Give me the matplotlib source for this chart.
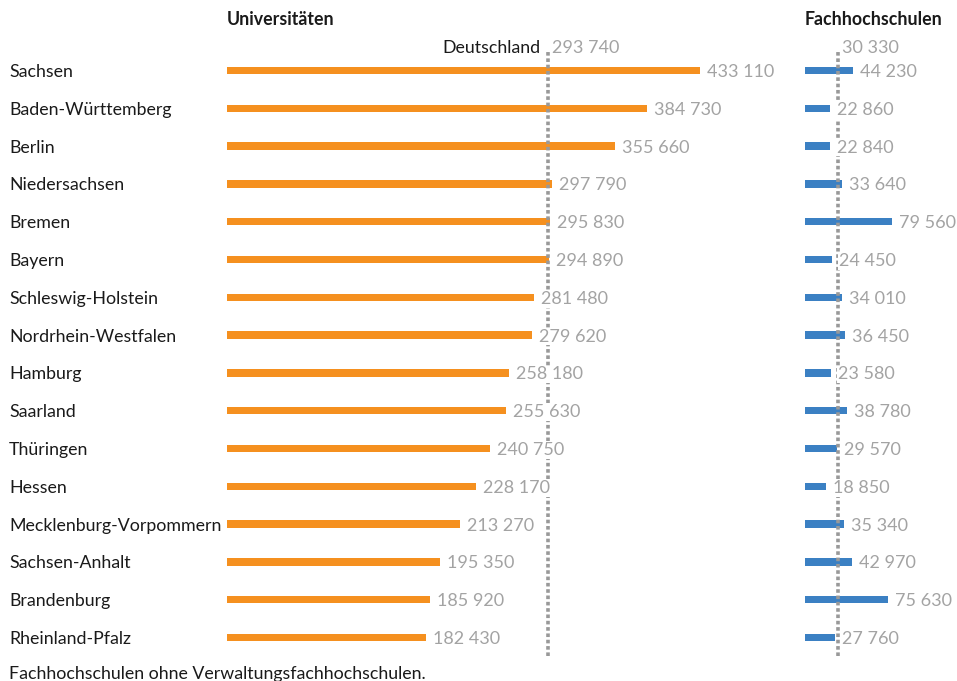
import matplotlib
matplotlib.use("Agg")
import matplotlib.pyplot as plt
from matplotlib.transforms import blended_transform_factory

plt.rcParams['font.family'] = ['Lato', 'DejaVu Sans']

states = ["Sachsen", "Baden-Württemberg", "Berlin", "Niedersachsen", "Bremen", "Bayern",
          "Schleswig-Holstein", "Nordrhein-Westfalen", "Hamburg", "Saarland", "Thüringen",
          "Hessen", "Mecklenburg-Vorpommern", "Sachsen-Anhalt", "Brandenburg", "Rheinland-Pfalz"]
uni = [433110, 384730, 355660, 297790, 295830, 294890, 281480, 279620, 258180, 255630,
       240750, 228170, 213270, 195350, 185920, 182430]
fh = [44230, 22860, 22840, 33640, 79560, 24450, 34010, 36450, 23580, 38780, 29570,
      18850, 35340, 42970, 75630, 27760]
de_uni = 293740
de_fh = 30330

W, H = 957, 681
fig = plt.figure(figsize=(W/100, H/100), dpi=100)

scale = 473 / 433110  # px per unit
top_px, bot_px = 51.6, 656.4

def make_ax(x0, x1):
    ax = fig.add_axes([x0/W, 1 - bot_px/H, (x1-x0)/W, (bot_px-top_px)/H])
    ax.set_xlim(0, (x1-x0)/scale)
    ax.set_ylim(len(states)-0.5, -0.5)
    ax.axis('off')
    return ax

axL = make_ax(227, 800)
axR = make_ax(805, 957)

orange = "#F5901F"
blue = "#3B80C3"
grey = "#A3A3A3"
fs = 12.8

def fmt(v):
    return f"{v:,}".replace(",", " ")

ypos = list(range(len(states)))
bar_h = 0.2
for ax, vals, col, de in [(axL, uni, orange, de_uni), (axR, fh, blue, de_fh)]:
    ax.barh(ypos, vals, height=bar_h, color=col, zorder=1)
    ax.axvline(de, color="#999999", lw=2.6, linestyle=(0, (1.0, 0.75)), zorder=2)
    off = 7 / scale
    for y, v in zip(ypos, vals):
        ax.text(v + off, y, fmt(v), color=grey, fontsize=13, va='center_baseline', ha='left',
                zorder=3, clip_on=False,
                bbox=dict(facecolor='white', edgecolor='none', pad=0.5))
    ax.text(de + 4/scale, -0.63, fmt(de), color=grey, fontsize=13, va='center_baseline', ha='left',
            zorder=3, clip_on=False,
            bbox=dict(facecolor='white', edgecolor='none', pad=0.5))

axL.text(de_uni - 7/scale, -0.63, "Deutschland", color="#1a1a1a", fontsize=fs,
         va='center_baseline', ha='right', clip_on=False)

tr = blended_transform_factory(fig.transFigure, axL.transData)
for y, s in zip(ypos, states):
    axL.text(9/W, y, s, transform=tr, fontsize=fs, color="#1a1a1a", va='center_baseline', ha='left')

fig.text(227/W, 1 - 18/H, "Universitäten", fontsize=12.8, fontweight='bold', color="#1a1a1a",
         va='center_baseline', ha='left')
fig.text(805/W, 1 - 18/H, "Fachhochschulen", fontsize=12.8, fontweight='bold', color="#1a1a1a",
         va='center_baseline', ha='left')
fig.text(9/W, 1 - 672/H, "Fachhochschulen ohne Verwaltungsfachhochschulen.", fontsize=fs,
         color="#1a1a1a", va='center_baseline', ha='left')

fig.savefig("out.png", dpi=100)
